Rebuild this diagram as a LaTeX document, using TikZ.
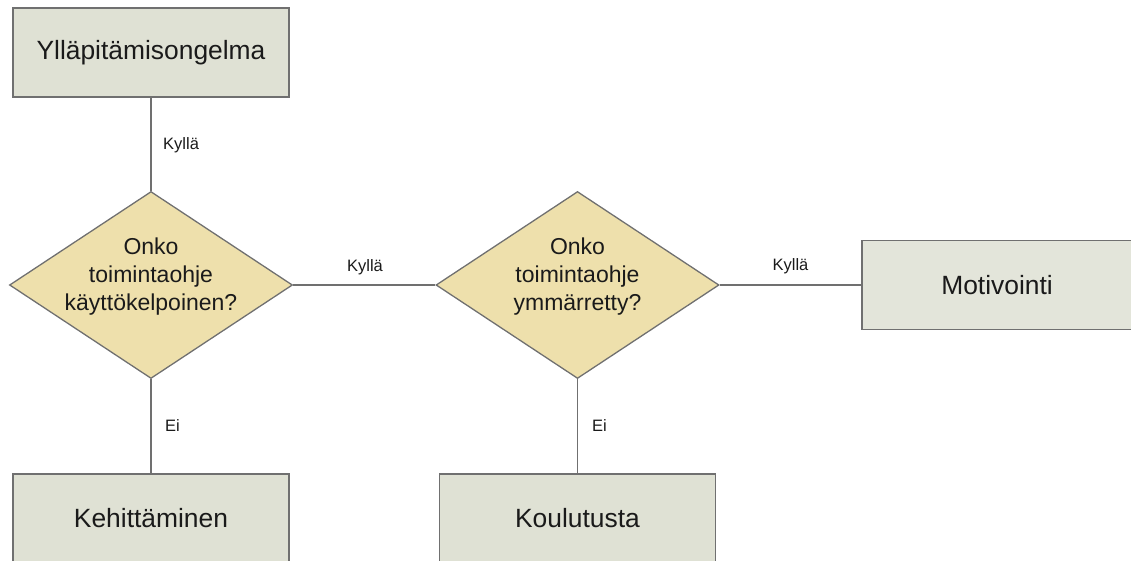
\documentclass[tikz,border=0pt]{standalone}
\usepackage{fontspec}
\setmainfont{Liberation Sans}
\usetikzlibrary{shapes.geometric}
\definecolor{boxfill}{HTML}{DFE1D4}
\definecolor{boxfillb}{HTML}{E3E5DA}
\definecolor{diafill}{HTML}{EEE0AC}
\definecolor{edge}{HTML}{707070}
\definecolor{ink}{HTML}{1A1A1A}
\tikzset{
  procbox/.style={draw=edge, line width=1.3pt, fill=boxfill, rectangle, inner sep=0pt, minimum width=276pt, minimum height=89pt, text=ink, font=\fontsize{26.4}{30}\selectfont},
  decision/.style={draw=edge, line width=1.3pt, fill=diafill, diamond, inner sep=0pt, minimum width=283pt, minimum height=187pt},
  dtext/.style={align=center, inner sep=0pt, text=ink, font=\fontsize{23}{28}\selectfont},
  conn/.style={draw=edge, line width=1.3pt},
  lbl/.style={inner sep=0pt, text=ink, font=\fontsize{16.5}{18}\selectfont}
}
\begin{document}
\begin{tikzpicture}[x=1pt,y=-1pt]
\useasboundingbox (0,0) rectangle (1131,560);
\begin{scope}
\clip (0,0) rectangle (1131,560);
\node[procbox] (top) at (151,52.5) {Ylläpitämisongelma};
\node[decision] (d1) at (151,285) {};
\node[dtext] (t1) at (151,277) {Onko\\toimintaohje\\käyttökelpoinen?};
\node[decision] (d2) at (577.5,285) {};
\node[dtext] (t2) at (577.5,277) {Onko\\toimintaohje\\ymmärretty?};
\node[procbox] (keh) at (151,518.5) {Kehittäminen};
\node[procbox] (kou) at (577.5,518.5) {Koulutusta};
\node[procbox, fill=boxfillb] (mot) at (1000,285) {};
\node[inner sep=0pt, text=ink, font=\fontsize{26.4}{30}\selectfont] (mott) at (997,285) {Motivointi};
\end{scope}
\draw[conn] (top.south) -- (d1.north);
\draw[conn] (d1.east) -- (d2.west);
\draw[conn] (d2.east) -- (mot.west);
\draw[conn] (d1.south) -- (keh.north);
\draw[conn] (d2.south) -- (kou.north);
\node[lbl, anchor=west] (l1) at (163,145) {Kyllä};
\node[lbl] (l2) at (365,267) {Kyllä};
\node[lbl] (l3) at (790.5,266) {Kyllä};
\node[lbl, anchor=west] (l4) at (165,426) {Ei};
\node[lbl, anchor=west] (l5) at (592,426) {Ei};
\end{tikzpicture}
\end{document}
